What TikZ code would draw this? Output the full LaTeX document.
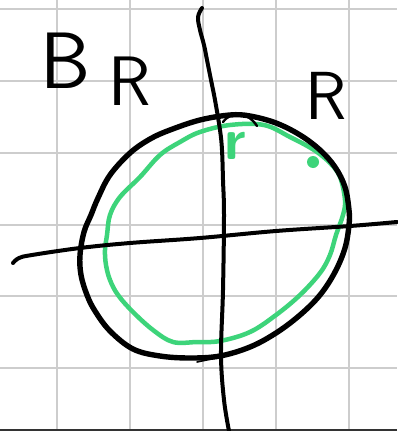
\documentclass[tikz,border=0pt]{standalone}
\usepackage{fontspec}
\definecolor{penGreen}{RGB}{61,212,122}
\definecolor{gridGrey}{RGB}{205,205,205}
\tikzset{
  gridline/.style={draw=gridGrey, line width=2pt},
  inkline/.style={draw=black, line width=4pt, line cap=round, line join=round},
  ellipseline/.style={draw=black, line width=5.4pt, line cap=round, line join=round},
  greenline/.style={draw=penGreen, line width=4.5pt, line cap=round, line join=round},
  label/.style={inner sep=0pt, font=\sffamily}
}
\begin{document}
\begin{tikzpicture}[x=1pt,y=-1pt]
\useasboundingbox[fill=white] (0,0) rectangle (397,431);
% grid
\foreach \gx in {57,130,203,276,349} \draw[gridline] (\gx,0) -- (\gx,431);
\foreach \gy in {9,81,153,225,296,368} \draw[gridline] (0,\gy) -- (397,\gy);
\draw[draw=black!80, line width=2pt] (0,430) -- (397,430);
% green inner curve
\draw[greenline] plot[smooth cycle, tension=0.6] coordinates {
 (200,132) (230,125) (264,125) (290,137) (314,150) (330,163) (340,177) (345,200)
 (343,215) (336,235) (330,255) (320,273) (300,295) (276,315) (250,332) (220,341)
 (197,342) (173,342) (153,330) (133,312) (118,295) (110,280) (106,265) (105,250)
 (107,235) (110,215) (120,197) (140,177) (160,155) (180,142)};
% black ellipse
\draw[ellipseline] plot[smooth cycle, tension=0.6] coordinates {
 (200,120) (230,115) (250,116) (276,123) (300,135) (320,150) (335,167) (345,187)
 (349,210) (349,225) (345,248) (335,272) (320,295) (300,315) (276,333) (250,347)
 (220,356) (190,358) (160,356) (133,349) (110,331) (95,311) (87,295) (81,275)
 (80,255) (84,232) (91,215) (98,198) (110,175) (130,153) (150,139) (170,130)};
\draw[draw=black, line width=1.6pt, line cap=round] (197,362) -- (221,357);
% small arc at the top
\draw[draw=black, line width=2.4pt, line cap=round] (223,122) .. controls (232,110) and (248,112) .. (257,126);
% axes
\draw[inkline] plot[smooth, tension=0.6] coordinates {
 (202,8) (198,17) (200,30) (204,45) (207,60) (211,80) (215,100) (220,130) (222,150)
 (223,180) (224,215) (223,290) (221,355) (224,400) (229,431)};
\draw[inkline] plot[smooth, tension=0.6] coordinates {
 (13,263) (19,258) (32,255) (80,248) (130,243) (200,238) (276,231) (350,226) (397,222)};
% point
\fill[penGreen] (313,162) circle (6pt);
% labels
\node[label, anchor=base west] (lblBR) at (40,88) {\fontsize{80}{80}\selectfont B\hspace{18pt}\raisebox{-17pt}{\fontsize{70}{70}\selectfont R}};
\node[label] (lblR) at (326,96) {\fontsize{68}{68}\selectfont R};
\node[label, text=penGreen] (lblr) at (235,146) {\fontsize{58}{58}\selectfont\bfseries r};
\end{tikzpicture}
\end{document}
